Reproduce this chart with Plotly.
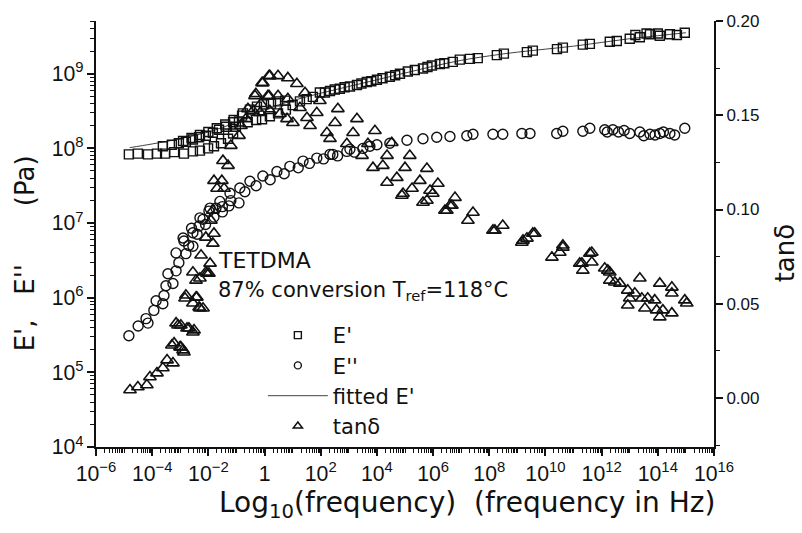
import plotly.graph_objects as go

# ---------------- data (log10 frequency, values) ----------------
ep_logf = [-4.83,-4.51,-4.15,-3.83,-3.54,-3.22,-2.87,-2.55,-2.30,-2.01,-1.80,-1.55,-1.30,-1.12,-1.02,-0.91,
           -3.62,-3.30,-3.05,-2.80,-2.55,-2.33,-2.09,-1.84,-1.62,-1.37,-1.12,
           -2.9,-2.6,-2.3,-2.0,-1.7,-1.4,-1.1,-0.8,
           -0.77,-0.52,-0.27,-0.02,0.23,0.48,0.73,-0.6,-0.3,-0.09,0.19,0.48,0.76,1.0,
           1.26,1.5,1.72,1.97,2.15,2.33,2.5,2.68,2.85,3.04,3.29,3.45,3.64,3.8,4.0,4.2,4.46,4.65,4.82,5.10,5.35,
           5.64,5.8,5.96,6.24,6.4,6.70,6.95,7.31,7.59,8.27,8.52,9.34,9.55,10.41,10.62,11.33,11.58,12.29,12.54,
           13.0,13.2,13.36,13.6,13.72,14.0,14.07,14.43,14.68,14.96]
ep_logE = [7.92,7.93,7.92,7.93,7.93,7.95,7.93,7.96,7.97,8.0,8.03,8.07,8.13,8.2,8.29,8.36,
           8.03,8.05,8.07,8.09,8.12,8.15,8.17,8.21,8.25,8.29,8.35,
           8.1,8.14,8.18,8.22,8.27,8.32,8.38,8.44,
           8.47,8.52,8.56,8.59,8.60,8.63,8.64,8.35,8.38,8.39,8.43,8.47,8.52,8.58,
           8.63,8.66,8.69,8.75,8.75,8.77,8.79,8.80,8.82,8.83,8.85,8.87,8.89,8.9,8.92,8.94,8.96,8.98,9.0,9.03,9.05,
           9.07,9.09,9.11,9.13,9.14,9.16,9.19,9.2,9.21,9.25,9.27,9.29,9.31,9.33,9.35,9.39,9.4,9.43,9.44,
           9.47,9.52,9.49,9.54,9.53,9.54,9.51,9.53,9.52,9.55]

fit_logf = [-4.8,-4.0,-3.0,-2.0,-1.0,0.0,1.0,2.0,3.0,4.0,5.0,6.0,7.0,8.0,9.0,10.0,11.0,12.0,13.0,14.0,15.0]
fit_logE = [8.01,8.06,8.13,8.22,8.35,8.52,8.64,8.74,8.83,8.92,9.01,9.1,9.18,9.24,9.29,9.33,9.37,9.42,9.47,9.51,9.55]

epp_logf = [-4.83,-4.5,-4.22,-4.15,-3.94,-3.86,-3.62,-3.58,-3.51,-3.26,-3.44,-3.15,-3.05,-3.15,-2.8,-2.87,-2.55,-2.55,
            -2.33,-2.19,-1.98,-1.73,-1.5,-1.27,-0.91,
            -2.9,-2.6,-2.3,-1.94,-1.59,-1.23,-0.88,-0.52,-0.06,0.44,0.9,1.37,1.86,2.33,2.93,3.5,4.0,
            -2.7,-2.4,-2.1,-1.8,-1.5,-1.2,-0.7,-0.3,0.2,0.7,1.2,1.6,2.1,2.6,3.2,
            2.43,3.04,3.75,4.46,5.07,5.64,6.13,6.6,7.2,7.42,8.13,8.48,9.16,9.45,10.4,10.62,11.33,11.58,12.11,
            12.4,12.6,13.0,13.36,13.72,14.07,14.43,14.96,12.2,12.8,13.5,13.9,14.2,14.6]
epp_logE = [5.49,5.62,5.72,5.66,5.83,5.96,5.92,6.03,6.16,6.19,6.32,6.36,6.47,6.6,6.59,6.76,6.69,6.87,
            6.96,7.05,7.16,7.2,7.22,7.23,7.27,
            6.8,6.93,7.07,7.2,7.29,7.4,7.47,7.56,7.63,7.69,7.76,7.83,7.87,7.92,7.96,8.0,8.05,
            6.7,6.85,6.98,7.08,7.15,7.3,7.42,7.5,7.58,7.66,7.74,7.8,7.86,7.9,7.95,
            7.92,7.99,8.03,8.07,8.11,8.13,8.15,8.16,8.17,8.19,8.19,8.19,8.2,8.2,8.2,8.23,8.23,8.27,8.25,
            8.25,8.22,8.2,8.22,8.19,8.2,8.2,8.27,8.22,8.24,8.17,8.18,8.22,8.18]

tan_logf = [-4.79,-4.51,-4.19,-4.08,-3.83,-3.62,-3.47,-3.26,-3.30,-3.01,-2.90,-3.08,-2.76,-2.55,-2.83,-2.55,-2.30,-2.41,
            -2.05,-2.30,-1.94,-3.15,-2.98,-2.69,-2.51,-3.22,-2.98,-2.87,-2.80,-2.44,-2.33,-2.19,-2.55,-2.09,-1.98,
            -2.44,-2.26,-1.84,-1.80,-2.09,-1.91,-1.84,
            -1.80,-1.44,-1.48,-1.30,-1.20,-0.91,-0.84,-0.66,-0.41,-0.31,-0.06,0.16,-0.13,0.16,-0.09,0.19,0.48,0.83,
            1.15,1.44,1.97,-0.34,0.12,0.48,0.83,1.26,1.51,1.62,-0.59,-0.16,0.19,0.55,0.80,1.01,1.86,2.61,3.29,3.93,
            2.51,2.22,2.33,3.15,2.93,3.47,3.86,-1.69,-1.52,
            3.68,4.53,4.36,5.17,4.21,5.0,5.78,4.36,4.71,5.53,6.17,4.93,5.25,5.89,6.78,5.64,5.78,6.49,6.67,7.42,
            4.89,5.99,6.42,6.60,7.24,8.13,8.48,9.16,9.34,
            8.20,9.20,9.55,10.23,10.62,11.22,9.62,10.62,11.58,12.22,
            10.51,11.30,11.33,11.65,11.65,12.11,12.29,12.29,12.47,12.65,12.93,13.0,12.93,13.18,13.36,13.43,13.54,
            13.64,13.89,13.96,14.07,14.07,14.18,14.50,14.50,14.50,14.96,15.03]
tan_val = [0.0042,0.0058,0.0069,0.0111,0.0132,0.0159,0.0201,0.0185,0.0280,0.0270,0.0254,0.0386,0.0370,0.0349,0.0529,0.0503,0.0476,0.0534,
           0.0661,0.0635,0.0714,0.0397,0.0386,0.0370,0.0360,0.0291,0.0270,0.0243,0.0545,0.0534,0.0481,0.0476,0.0667,0.0667,0.0661,
           0.0624,0.0757,0.0820,0.0873,0.0852,0.0942,0.0995,
           0.1153,0.1111,0.1259,0.1233,0.1339,0.1392,0.1444,0.1481,0.1524,0.1614,0.1672,0.1709,0.1561,0.1603,0.1672,0.1709,0.1709,0.1698,
           0.1667,0.1619,0.1577,0.1603,0.1603,0.1603,0.1587,0.1540,0.1487,0.1444,0.1534,0.1513,0.1524,0.1508,0.1481,0.1460,0.1513,0.1534,0.1481,0.1418,
           0.1460,0.1407,0.1376,0.1407,0.1349,0.1286,0.1222,0.1111,0.1153,
           0.1349,0.1354,0.1286,0.1286,0.1233,0.1222,0.1217,0.1143,0.1169,0.1153,0.1138,0.1085,0.1111,0.1101,0.1063,0.1037,0.1048,0.0995,0.1021,0.0984,
           0.1074,0.1085,0.0995,0.1021,0.0942,0.0889,0.0915,0.0825,0.0847,
           0.0889,0.0836,0.0873,0.0746,0.0810,0.0714,0.0873,0.0799,0.0767,0.0677,
           0.0772,0.0714,0.0677,0.0772,0.0720,0.0688,0.0667,0.0624,0.0614,0.0608,0.0571,0.0529,0.0492,0.0556,0.0635,0.0529,0.0476,
           0.0529,0.0519,0.0466,0.0429,0.0608,0.0466,0.0587,0.0450,0.0556,0.0519,0.0503]

ep_f = [10 ** v for v in ep_logf]
ep_E = [10 ** v for v in ep_logE]
fit_f = [10 ** v for v in fit_logf]
fit_E = [10 ** v for v in fit_logE]
epp_f = [10 ** v for v in epp_logf]
epp_E = [10 ** v for v in epp_logE]
tan_f = [10 ** v for v in tan_logf]

FONT = "DejaVu Sans, Liberation Sans, Arial, sans-serif"
TICKFONT = "Liberation Sans, Arial, sans-serif"
BLK = "#111111"

fig = go.Figure()
fig.add_trace(go.Scatter(x=ep_f, y=ep_E, mode="markers", showlegend=False,
                         marker=dict(symbol="square-open", size=9, color=BLK, line=dict(width=1.4))))
fig.add_trace(go.Scatter(x=fit_f, y=fit_E, mode="lines", showlegend=False, line=dict(color=BLK, width=0.8, shape="spline")))
fig.add_trace(go.Scatter(x=epp_f, y=epp_E, mode="markers", showlegend=False,
                         marker=dict(symbol="circle-open", size=10, color=BLK, line=dict(width=1.4))))
fig.add_trace(go.Scatter(x=tan_f, y=tan_val, mode="markers", showlegend=False, yaxis="y2",
                         marker=dict(symbol="triangle-up-open", size=11, color=BLK, line=dict(width=1.6))))

# legend-only entries
fig.add_trace(go.Scatter(x=[None], y=[None], mode="markers", name="E'", legendgroup="a",
                         marker=dict(symbol="square-open", size=7, color=BLK, line=dict(width=1.4))))
fig.add_trace(go.Scatter(x=[None], y=[None], mode="markers", name="E''", legendgroup="b",
                         marker=dict(symbol="circle-open", size=7, color=BLK, line=dict(width=1.4))))
fig.add_trace(go.Scatter(x=[None], y=[None], mode="lines", name="fitted E'", legendgroup="c",
                         line=dict(color=BLK, width=0.8)))
fig.add_trace(go.Scatter(x=[None], y=[None], mode="markers", name="tanδ", legendgroup="d",
                         marker=dict(symbol="triangle-up-open", size=8, color=BLK, line=dict(width=1.5))))

axis_common = dict(showline=True, linecolor=BLK, linewidth=2, ticks="outside", tickcolor=BLK,
                   tickwidth=2, ticklen=7, showgrid=False, zeroline=False,
                   tickfont=dict(family=TICKFONT, size=17, color=BLK))

fig.update_layout(
    width=802, height=533,
    margin=dict(l=96, r=88, t=18, b=86),
    paper_bgcolor="white", plot_bgcolor="white",
    font=dict(family=FONT, color=BLK),
    xaxis=dict(type="log", range=[-6, 16], dtick=2, exponentformat="power", showexponent="all",
               minor=dict(ticks="outside", ticklen=4, tickwidth=1, tickcolor=BLK, dtick="D1"),
               **axis_common),
    yaxis=dict(type="log", range=[4, 9.707], dtick=1, exponentformat="power", showexponent="all",
               minor=dict(ticks="outside", ticklen=4, tickwidth=1, tickcolor=BLK, dtick="D1"),
               **axis_common),
    yaxis2=dict(overlaying="y", side="right", anchor="x", range=[-0.026, 0.2], dtick=0.05,
                tickformat=".2f",
                minor=dict(ticks="outside", ticklen=4, tickwidth=1, tickcolor=BLK, dtick=0.025),
                **axis_common),
    legend=dict(x=0.27, y=0.31, xanchor="left", yanchor="top", bgcolor="rgba(0,0,0,0)",
                font=dict(family=FONT, size=21, color=BLK), itemwidth=60,
                traceorder="grouped", tracegroupgap=0),
)

fig.add_annotation(xref="paper", yref="paper", x=(216 - 96) / 618, y=(447 - 259) / 429,
                   xanchor="left", yanchor="middle", showarrow=False, text="TETDMA",
                   font=dict(family=FONT, size=22, color=BLK))
fig.add_annotation(xref="paper", yref="paper", x=(216 - 96) / 618, y=(447 - 290) / 429,
                   xanchor="left", yanchor="middle", showarrow=False,
                   text="87% conversion T<sub>ref</sub>=118°C",
                   font=dict(family=FONT, size=21, color=BLK))
fig.add_annotation(xref="paper", yref="paper", x=(467 - 96) / 618, y=-(505 - 447) / 429,
                   xanchor="center", yanchor="middle", showarrow=False,
                   text="Log<sub>10</sub>(frequency)  (frequency in Hz)",
                   font=dict(family=FONT, size=28, color=BLK))
fig.add_annotation(xref="paper", yref="paper", x=-(96 - 25) / 618, y=(447 - 252) / 429,
                   xanchor="center", yanchor="middle", showarrow=False, textangle=-90,
                   text="E',&nbsp;&nbsp; E''&nbsp;&nbsp;&nbsp;&nbsp;&nbsp;&nbsp; (Pa)",
                   font=dict(family=FONT, size=26, color=BLK))
fig.add_annotation(xref="paper", yref="paper", x=(785 - 96) / 618, y=(447 - 252) / 429,
                   xanchor="center", yanchor="middle", showarrow=False, textangle=-90,
                   text="tanδ",
                   font=dict(family=FONT, size=26, color=BLK))

fig.write_html("out.html")
